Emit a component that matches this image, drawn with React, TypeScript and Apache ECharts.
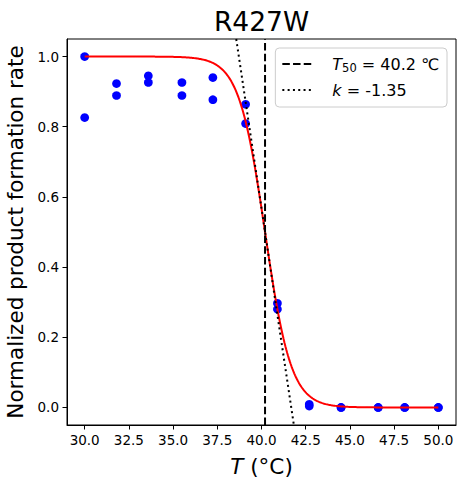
import React, { useEffect, useRef } from "react";
import * as echarts from "echarts";

const TITLE = "R427W";
const TEMPS = [30.0, 30.0, 31.8, 31.8, 33.6, 33.6, 35.5, 35.5, 37.25, 37.25, 39.1, 39.1, 40.9, 40.9, 42.7, 42.7, 44.5, 44.5, 46.6, 46.6, 48.1, 48.1, 50.0, 50.0];
const RATES = [1.0, 0.826, 0.923, 0.889, 0.945, 0.926, 0.926, 0.889, 0.94, 0.877, 0.864, 0.809, 0.297, 0.28, 0.009, 0.004, 0.0, 0.0, 0.0, 0.0, 0.0, 0.0, 0.0, 0.0];
const T50 = 40.2;
const K = -1.35;
const X_TICKS = [30.0, 32.5, 35.0, 37.5, 40.0, 42.5, 45.0, 47.5, 50.0];
const Y_TICKS = [0.0, 0.2, 0.4, 0.6, 0.8, 1.0];
const X_MIN = 29;
const X_MAX = 51;
const Y_MIN = -0.05;
const Y_MAX = 1.05;
const FIT_START = 30;
const FIT_END = 50;

const FONT = "DejaVu Sans";

export default function App() {
  const ref = useRef<HTMLDivElement>(null);
  useEffect(() => {
    if (!ref.current) return;
    const chart = echarts.init(ref.current, null, { renderer: "svg" });

    // fitted logistic curve defined by the reported parameters
    const fit: number[][] = [];
    const steps = 400;
    for (let i = 0; i <= steps; i++) {
      const t = FIT_START + ((FIT_END - FIT_START) * i) / steps;
      fit.push([t, 1 / (1 + Math.exp(-K * (t - T50)))]);
    }
    // tangent at T50: slope K/4
    const slope = K / 4;
    const tAt = (y: number) => T50 + (y - 0.5) / slope;
    const tangent = [
      [tAt(Y_MAX), Y_MAX],
      [tAt(Y_MIN), Y_MIN],
    ];
    const scatter = TEMPS.map((t, i) => [t, RATES[i]]);

    const legendText: Record<string, string> = {
      T50: `{sp|}{i|T}{sub|50}{t| = ${T50.toFixed(1)} ℃}`,
      k: `{sp|}{i|k}{t| = ${K.toFixed(2)}}`,
    };

    chart.setOption({
      animation: false,
      backgroundColor: "#fff",
      title: {
        text: TITLE,
        left: 261.5,
        top: 8,
        textAlign: "center",
        padding: 0,
        textStyle: { fontFamily: FONT, fontSize: 26.5, fontWeight: "normal", color: "#000" },
      },
      grid: {
        left: 67,
        right: 8,
        top: 39,
        bottom: 62,
        outerBoundsMode: "none",
        containLabel: false,
        show: true,
        borderColor: "#000",
        borderWidth: 1,
        backgroundColor: "transparent",
      },
      legend: {
        data: ["T50", "k"],
        orient: "vertical",
        right: 17,
        top: 48,
        padding: [6, 8, 7, 6],
        itemGap: 6,
        itemWidth: 31,
        itemHeight: 14,
        borderColor: "#cccccc",
        borderWidth: 1,
        borderRadius: 4,
        backgroundColor: "rgba(255,255,255,0.8)",
        itemStyle: { color: "rgba(0,0,0,0)", borderWidth: 0, opacity: 0 },
        lineStyle: { type: "inherit", width: 2 },
        formatter: (name: string) => legendText[name],
        textStyle: {
          fontFamily: FONT,
          fontSize: 16,
          color: "#000",
          lineHeight: 20,
          rich: {
            sp: { width: 14 },
            i: { fontFamily: FONT, fontSize: 16, fontStyle: "italic", color: "#000" },
            sub: { fontFamily: FONT, fontSize: 11.5, color: "#000", padding: [7, 0, 0, 0] },
            t: { fontFamily: FONT, fontSize: 16, color: "#000" },
          },
        },
      },
      xAxis: {
        type: "value",
        min: X_MIN,
        max: X_MAX,
        name: "{i|T} (°C)",
        nameLocation: "middle",
        nameGap: 30,
        nameTextStyle: {
          fontFamily: FONT,
          fontSize: 21.5,
          color: "#000",
          rich: {
            i: { fontFamily: FONT, fontSize: 21.5, fontStyle: "italic", color: "#000" },
          },
        },
        splitLine: { show: false },
        axisLine: { show: true, onZero: false, lineStyle: { color: "#000", width: 1 } },
        axisTick: {
          show: true,
          inside: false,
          length: 4.5,
          customValues: X_TICKS,
          lineStyle: { color: "#000", width: 1 },
        },
        axisLabel: {
          customValues: X_TICKS,
          formatter: (v: number) => v.toFixed(1),
          fontFamily: FONT,
          fontSize: 13.5,
          color: "#000",
          margin: 8,
        },
      },
      yAxis: {
        type: "value",
        min: Y_MIN,
        max: Y_MAX,
        name: "Normalized product formation rate",
        nameLocation: "middle",
        nameRotate: 90,
        nameGap: 37,
        nameTextStyle: { fontFamily: FONT, fontSize: 21.5, color: "#000" },
        splitLine: { show: false },
        axisLine: { show: true, onZero: false, lineStyle: { color: "#000", width: 1 } },
        axisTick: {
          show: true,
          inside: false,
          length: 4.5,
          customValues: Y_TICKS,
          lineStyle: { color: "#000", width: 1 },
        },
        axisLabel: {
          customValues: Y_TICKS,
          formatter: (v: number) => v.toFixed(1),
          fontFamily: FONT,
          fontSize: 13.5,
          color: "#000",
          margin: 8,
        },
      },
      series: [
        {
          name: "data",
          type: "scatter",
          data: scatter,
          symbolSize: 8.7,
          itemStyle: { color: "#0000ff", opacity: 1 },
        },
        {
          name: "fit",
          type: "line",
          data: fit,
          symbol: "none",
          lineStyle: { color: "#ff0000", width: 2 },
        },
        {
          name: "T50",
          type: "line",
          data: [
            [T50, Y_MIN],
            [T50, Y_MAX],
          ],
          symbol: "none",
          color: "#000",
          lineStyle: { color: "#000", width: 2, type: [7.5, 3.2] },
        },
        {
          name: "k",
          type: "line",
          data: tangent,
          symbol: "none",
          color: "#000",
          lineStyle: { color: "#000", width: 2, type: [2, 3.3] },
        },
      ],
    });
    return () => chart.dispose();
  }, []);
  return (
    <div
      ref={ref}
      style={{ position: "fixed", left: 0, top: 0, width: 464, height: 487 }}
    />
  );
}
